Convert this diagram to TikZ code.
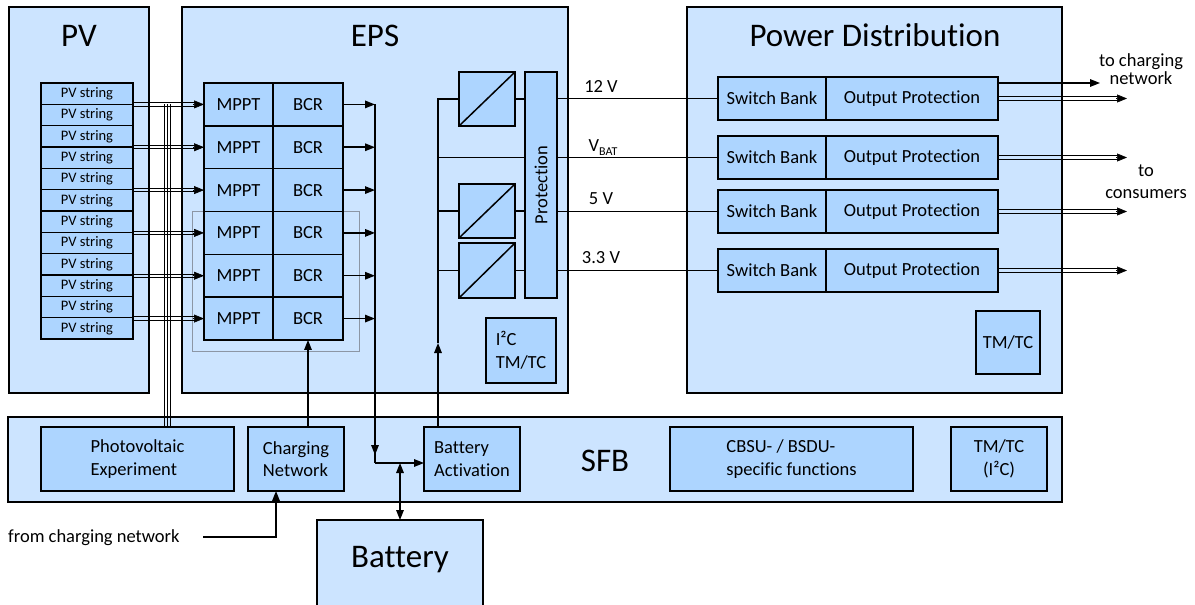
\documentclass[tikz,border=0pt]{standalone}
\usepackage{fontspec}
\usepackage{graphicx}
\setmainfont{Carlito}[Ligatures={NoCommon}]
\usetikzlibrary{arrows.meta,calc}
\definecolor{outerblue}{RGB}{204,228,255}
\definecolor{innerblue}{RGB}{173,213,255}
\definecolor{grpgray}{RGB}{140,150,165}
\newcommand\mytext{\fontsize{18.5}{22.5}\selectfont}
\newcommand\mysmall{\fontsize{14.5}{17}\selectfont}
\newcommand\mytitle{\fontsize{33}{40}\selectfont}
\begin{document}
\begin{tikzpicture}[x=1pt,y=-1pt,
 outerbox/.style={draw,fill=outerblue,line width=1.6pt,anchor=north west,inner sep=0pt,outer sep=0pt},
 innerbox/.style={draw,fill=innerblue,line width=1.6pt,anchor=north west,inner sep=0pt,outer sep=0pt,font=\mytext,align=center},
 title/.style={font=\mytitle,anchor=base,inner sep=0pt},
 lbl/.style={font=\mytext,inner sep=0pt},
 wire/.style={line width=1.5pt},
 thin wire/.style={line width=1pt},
 arr/.style={line width=1.5pt,-{Triangle[length=10pt,width=7.5pt]}},
 darr/.style={line width=1.5pt,{Triangle[length=10pt,width=7.5pt]}-{Triangle[length=10pt,width=7.5pt]}},
 head/.style={line width=0.6pt,-{Triangle[length=10pt,width=8pt]}}
]
\useasboundingbox (0,0) rectangle (1195,605);
\clip (0,0) rectangle (1195,605);

% outer boxes
\node[outerbox,minimum width=140,minimum height=386] (pv) at (9,7) {};
\node[outerbox,minimum width=386,minimum height=386] (eps) at (182,7) {};
\node[outerbox,minimum width=375,minimum height=386] (pd) at (687,7) {};
\node[outerbox,minimum width=1054,minimum height=85] (sfb) at (8,417) {};
\node[outerbox,minimum width=166,minimum height=100] (bat) at (317,520) {};

% titles
\node[title] (pvt) at (79,46) {PV};
\node[title] (epst) at (375,46) {EPS};
\node[title] (pdt) at (875,46) {Power Distribution};
\node[title] (sfbt) at (605,471) {SFB};
\node[title] (batt) at (400,567) {Battery};

% group frame
\node[draw=grpgray,line width=1pt,anchor=north west,inner sep=0pt,minimum width=167,minimum height=140] (grp) at (192,211) {};

% PV strings
\foreach \i in {1,...,12}
  \node[innerbox,font=\mysmall,minimum width=92,minimum height=21.33] (s\i) at (41,{83+(\i-1)*21.33}) {PV string};

% MPPT / BCR
\foreach \i in {1,...,6} {
  \node[innerbox,minimum width=69,minimum height=42.83] (m\i) at (204,{83+(\i-1)*42.83}) {MPPT};
  \node[innerbox,minimum width=70,minimum height=42.83] (b\i) at (273,{83+(\i-1)*42.83}) {BCR};
}

% converters, protection, TM/TC
\node[innerbox,minimum width=56,minimum height=54] (c1) at (459,72) {};
\node[innerbox,minimum width=56,minimum height=54] (c2) at (459,184) {};
\node[innerbox,minimum width=56,minimum height=55] (c3) at (459,243) {};
\foreach \k in {1,2,3} \draw[wire] (c\k.south west) -- (c\k.north east);
\node[innerbox,minimum width=32,minimum height=226] (prot) at (525,72) {\rotatebox{90}{Protection}};
\node[innerbox,align=left,minimum width=70,minimum height=65] (i2c) at (486,318) {I²C\\TM/TC};

% power distribution
\foreach \k/\y in {1/77,2/136,3/190,4/249} {
  \node[innerbox,minimum width=108,minimum height=43] (sb\k) at (718,\y) {Switch Bank};
  \node[innerbox,minimum width=172,minimum height=43] (op\k) at (826,\y) {Output Protection};
}
\node[innerbox,minimum width=64,minimum height=63] (pdtm) at (976,311) {TM/TC};

% SFB
\node[innerbox,align=left,minimum width=193,minimum height=64] (pe) at (41,427) {Photovoltaic\\Experiment};
\node[innerbox,align=left,minimum width=96,minimum height=64] (cn) at (248,427) {Charging\\Network};
\node[innerbox,align=left,minimum width=96,minimum height=64] (ba) at (424,427) {Battery\\Activation};
\node[innerbox,align=left,minimum width=243,minimum height=64] (cbsu) at (670,427) {CBSU- / BSDU-\\specific functions};
\node[innerbox,minimum width=96,minimum height=64] (sfbtm) at (951,427) {TM/TC\\(I²C)};

% PV strings -> MPPT (double lines)
\foreach \i [evaluate=\i as \j using int(2*\i-1)] in {1,...,6} {
  \draw[thin wire] ($(s\j.east |- m\i.west)+(0,-1.7)$) -- ($(m\i.west)+(-9,-1.7)$);
  \draw[thin wire] ($(s\j.east |- m\i.west)+(0,1.7)$) -- ($(m\i.west)+(-9,1.7)$);
  \draw[head] ($(m\i.west)+(-11,0)$) -- (m\i.west);
}
% triple lines to photovoltaic experiment
\foreach \dx [count=\k] in {164,167,170} {
  \coordinate (tl\k) at (\dx,104);
  \draw[thin wire] (tl\k) -- (tl\k |- pe.north);
}

% BCR -> bus -> battery activation
\coordinate (bus) at (375,0);
\coordinate (j) at (375,463);
\foreach \i in {1,...,6} \draw[arr] (b\i.east) -- (b\i.east -| bus);
\draw[arr] (bus |- b1.east) -- ($(j)+(0,-8)$);
\draw[wire] ($(j)+(0,-10)$) -- (j);
\draw[arr] (j) -- (j -| ba.west);
\draw[darr] (bat.north |- j) -- (bat.north);

% battery activation -> converters
\coordinate (cfa) at (438,343);
\draw[arr] (cfa |- ba.north) -- (cfa);
\draw[wire] (cfa) -- (cfa |- c1.west) -- (c1.west);
\draw[wire] (cfa |- c2.west) -- (c2.west);
\draw[wire] (cfa |- c3.west) -- (c3.west);
\draw[wire] (cfa |- sb2.west) -- (prot.west |- sb2.west);
\foreach \k in {1,2,3} \draw[wire] (c\k.east) -- (c\k.east -| prot.west);
\foreach \k in {1,...,4} \draw[wire] (prot.east |- sb\k.west) -- (sb\k.west);

% voltage labels
\node[lbl,anchor=base] (l12) at (601,92) {12 V};
\node[lbl,anchor=base] (lvb) at (603,151) {V\raisebox{-4pt}{\fontsize{12}{12}\selectfont BAT}};
\node[lbl,anchor=base] (l5) at (601,204) {5 V};
\node[lbl,anchor=base] (l33) at (601,263) {3.3 V};

% charging network
\draw[arr] (b6.south |- cn.north) -- (b6.south);
\node[lbl,anchor=base west] (fcnt) at (8,542) {from charging network};
\coordinate (fcn) at (203,537);
\coordinate (fcc) at (276,537);
\draw[arr] (fcn) -- (fcc) -- (fcc |- cn.south);

% outputs of power distribution
\coordinate (oe) at (1127,0);
\foreach \k in {1,...,4} {
  \draw[thin wire] ($(op\k.east)+(0,-1.7)$) -- ($(oe |- op\k.east)+(-9,-1.7)$);
  \draw[thin wire] ($(op\k.east)+(0,1.7)$) -- ($(oe |- op\k.east)+(-9,1.7)$);
  \draw[head] ($(oe |- op\k.east)+(-11,0)$) -- (oe |- op\k.east);
}
\coordinate (tcn) at (1100,83);
\draw[arr] (op1.east |- tcn) -- (tcn);
\node[lbl,align=center,font=\fontsize{18.5}{18}\selectfont] (tcnt) at (1141,69) {to charging\\network};
\node[lbl,align=center,font=\fontsize{18.5}{22}\selectfont] (tct) at (1146,182) {to\\consumers};
\end{tikzpicture}
\end{document}
